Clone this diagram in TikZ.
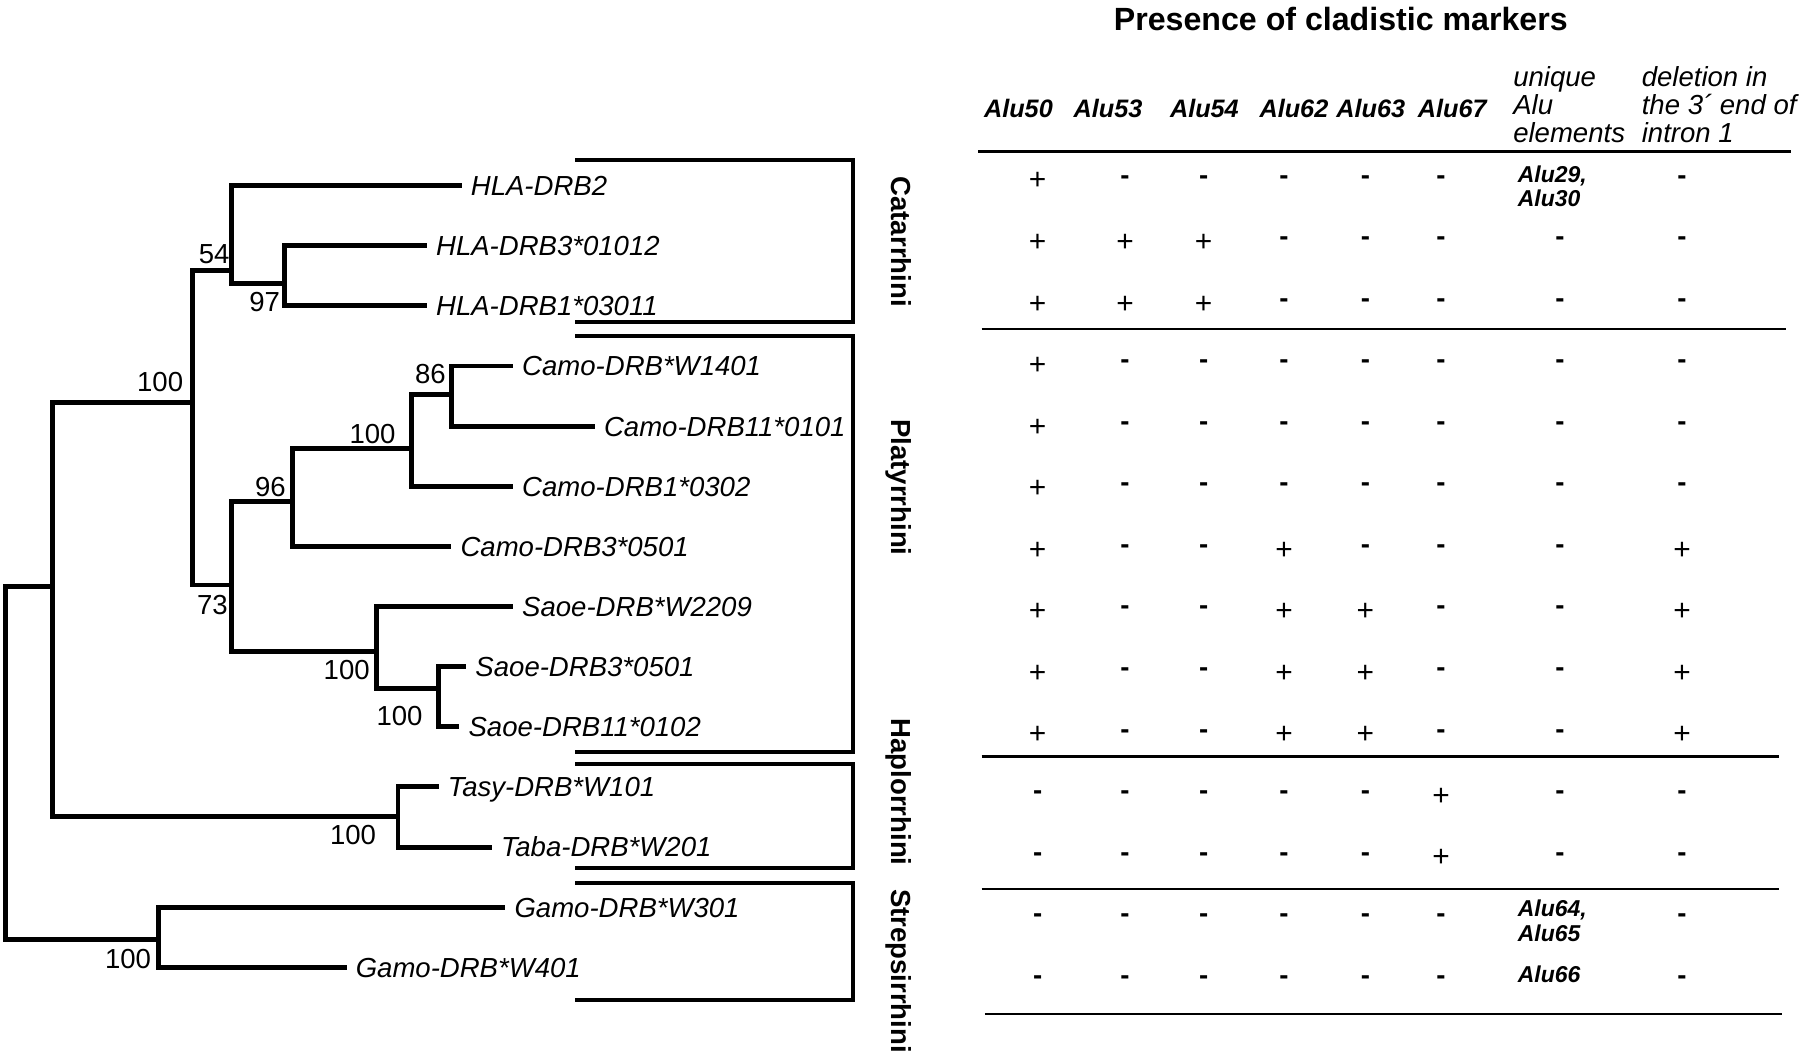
\documentclass[tikz,border=0pt]{standalone}
\usepackage{fontspec}
\setmainfont{Liberation Sans}
\begin{document}
\begin{tikzpicture}[x=1pt,y=-1pt,
  tree/.style={line width=4.3pt, line cap=rect, line join=miter},
  brk/.style={line width=3.6pt, line join=miter},
  rule/.style={line width=2.4pt},
  leaf/.style={anchor=base west, inner sep=0pt, font=\fontsize{24}{24}\selectfont\itshape},
  boot/.style={anchor=base, inner sep=0pt, font=\fontsize{24}{24}\selectfont},
  clade/.style={anchor=base, rotate=-90, inner sep=0pt, font=\fontsize{24}{24}\selectfont\bfseries},
  hdr/.style={anchor=base west, inner sep=0pt, font=\fontsize{24}{24}\selectfont\itshape},
  hdralu/.style={anchor=base west, inner sep=0pt, font=\fontsize{22}{22}\selectfont\bfseries\itshape},
  plus/.style={anchor=base, inner sep=0pt, font=\fontsize{26}{26}\selectfont},
  minus/.style={anchor=base, inner sep=0pt, font=\fontsize{24}{24}\selectfont\bfseries},
  alun/.style={anchor=base west, inner sep=0pt, font=\fontsize{20}{20}\selectfont\bfseries\itshape},
  ttl/.style={anchor=base, inner sep=0pt, font=\fontsize{28}{28}\selectfont\bfseries}
]
\fill[white] (0,0) rectangle (1568,921);
\useasboundingbox (0,0) rectangle (1568,921);

% ---------- tree: internal nodes ----------
\coordinate (root) at (5,665);
\coordinate (nA) at (45.7,511);
\coordinate (nCP) at (168,350.7);
\coordinate (n54) at (202,235.7);
\coordinate (n97) at (248,246.8);
\coordinate (n73) at (202,509.6);
\coordinate (n96) at (255,437);
\coordinate (nC) at (358.3,390.5);
\coordinate (n86) at (393,344);
\coordinate (nSa) at (328.3,567.7);
\coordinate (nSb) at (381.7,599.6);
\coordinate (nT) at (346.7,711.4);
\coordinate (nG) at (138.3,818.8);

% ---------- leaf ends ----------
\foreach \i/\x in {1/400,2/369.7,3/369.7,4/444.7,5/516,6/444.7,7/391,8/444.7,9/404,10/398,11/380,12/426.3,13/438,14/299.7}{
  \coordinate (e\i) at (\x,{161.7+(\i-1)*52.38});
}

\draw[tree] (root) |- (nA);
\draw[tree] (root) |- (nG);
\draw[tree] (nA) |- (nCP);
\draw[tree] (nA) |- (nT);
\draw[tree] (nCP) |- (n54);
\draw[tree] (nCP) |- (n73);
\draw[tree] (n54) |- (e1);
\draw[tree] (n54) |- (n97);
\draw[tree] (n97) |- (e2);
\draw[tree] (n97) |- (e3);
\draw[tree] (n73) |- (n96);
\draw[tree] (n73) |- (nSa);
\draw[tree] (n96) |- (nC);
\draw[tree] (n96) |- (e7);
\draw[tree] (nC) |- (n86);
\draw[tree] (nC) |- (e6);
\draw[tree] (n86) |- (e4);
\draw[tree] (n86) |- (e5);
\draw[tree] (nSa) |- (e8);
\draw[tree] (nSa) |- (nSb);
\draw[tree] (nSb) |- (e9);
\draw[tree] (nSb) |- (e10);
\draw[tree] (nT) |- (e11);
\draw[tree] (nT) |- (e12);
\draw[tree] (nG) |- (e13);
\draw[tree] (nG) |- (e14);

% ---------- leaf labels ----------
\foreach \i/\t in {1/HLA-DRB2,2/HLA-DRB3*01012,3/HLA-DRB1*03011,4/Camo-DRB*W1401,5/Camo-DRB11*0101,6/Camo-DRB1*0302,7/Camo-DRB3*0501,8/Saoe-DRB*W2209,9/Saoe-DRB3*0501,10/Saoe-DRB11*0102,11/Tasy-DRB*W101,12/Taba-DRB*W201,13/Gamo-DRB*W301,14/Gamo-DRB*W401}{
  \path (e\i) ++(10,8.6) node[leaf] (l\i) {\t};
}

% ---------- bootstrap values ----------
\node[boot] (bA) at (139.5,341) {100};
\node[boot] (b54) at (186.5,229.2) {54};
\node[boot] (b97) at (230.5,271.3) {97};
\node[boot] (b86) at (375,333.8) {86};
\node[boot] (bC) at (324.5,386) {100};
\node[boot] (b96) at (235.5,432.5) {96};
\node[boot] (b73) at (185,535.6) {73};
\node[boot] (bSa) at (302,592.2) {100};
\node[boot] (bSb) at (348,632.3) {100};
\node[boot] (bT) at (307.5,736) {100};
\node[boot] (bG) at (111.5,843.4) {100};

% ---------- clade brackets ----------
\coordinate (bx) at (743.3,0);
\coordinate (catT) at (500.9,139.4);  \coordinate (catB) at (500.9,280.8);
\coordinate (plaT) at (500.9,292.7);  \coordinate (plaB) at (500.9,654.8);
\coordinate (hapT) at (500.9,665.8);  \coordinate (hapB) at (500.9,756.4);
\coordinate (strT) at (500.9,769.5);  \coordinate (strB) at (500.9,871.1);
\foreach \g in {cat,pla,hap,str}{
  \draw[brk] (\g T) -- (\g T -| bx) -- (\g B -| bx) -- (\g B);
}
\node[clade] (cCat) at (777,210.5) {Catarrhini};
\node[clade] (cPla) at (777,424.6) {Platyrrhini};
\node[clade] (cHap) at (777,690) {Haplorrhini};
\node[clade] (cStr) at (777,845.8) {Strepsirrhini};

% ---------- table ----------
\node[ttl] (title) at (1168,27) {Presence of cladistic markers};

\node[hdralu] (h1) at (857,102) {Alu50};
\node[hdralu] (h2) at (935,102) {Alu53};
\node[hdralu] (h3) at (1019,102) {Alu54};
\node[hdralu] (h4) at (1097,102) {Alu62};
\node[hdralu] (h5) at (1164,102) {Alu63};
\node[hdralu] (h6) at (1235,102) {Alu67};
\node[hdr] (h7a) at (1318,75) {unique};
\node[hdr] (h7b) at (1318,100) {Alu};
\node[hdr] (h7c) at (1318,124) {elements};
\node[hdr] (h8a) at (1430,75) {deletion in};
\node[hdr] (h8b) at (1430,100) {the 3´ end of};
\node[hdr] (h8c) at (1430,124) {intron 1};

\coordinate (r0a) at (852,132.1);  \coordinate (r0b) at (1560,132.1);
\coordinate (r1a) at (855,286.6);  \coordinate (r1b) at (1556,286.6);
\coordinate (r2a) at (855,659.1);  \coordinate (r2b) at (1550,659.1);
\coordinate (r3a) at (855,774.4);  \coordinate (r3b) at (1550,774.4);
\coordinate (r4a) at (858,883.3);  \coordinate (r4b) at (1552,883.3);
\foreach \k in {0,...,4}{ \draw[rule] (r\k a) -- (r\k b); }

\foreach \y/\syms [count=\r] in {
 157/{p,m,m,m,m,m,n,m},
 210.6/{p,p,p,m,m,m,m,m},
 264.2/{p,p,p,m,m,m,m,m},
 317.8/{p,m,m,m,m,m,m,m},
 371.4/{p,m,m,m,m,m,m,m},
 425/{p,m,m,m,m,m,m,m},
 478.6/{p,m,m,p,m,m,m,p},
 532.2/{p,m,m,p,p,m,m,p},
 585.8/{p,m,m,p,p,m,m,p},
 639.4/{p,m,m,p,p,m,m,p},
 693/{m,m,m,m,m,p,m,m},
 746.6/{m,m,m,m,m,p,m,m},
 800.2/{m,m,m,m,m,m,n,m},
 853.8/{m,m,m,m,m,m,n,m}}{
  \foreach \s [count=\c] in \syms {
    \pgfmathsetmacro\xx{{903.9,980,1048.5,1118.5,1189.4,1255.3,1358.8,1465.2}[\c-1]}
    \if p\s \node[plus] (t\r-\c) at (\xx,\y+8.5) {+};\fi
    \if m\s \node[minus] (t\r-\c) at (\xx,\y+3.5) {-};\fi
  }
}

\node[alun] (a29) at (1322,159.2) {Alu29,};
\node[alun] (a30) at (1322,180.2) {Alu30};
\node[alun] (a64) at (1322,798.4) {Alu64,};
\node[alun] (a65) at (1322,820.2) {Alu65};
\node[alun] (a66) at (1322,855.6) {Alu66};
\end{tikzpicture}
\end{document}
